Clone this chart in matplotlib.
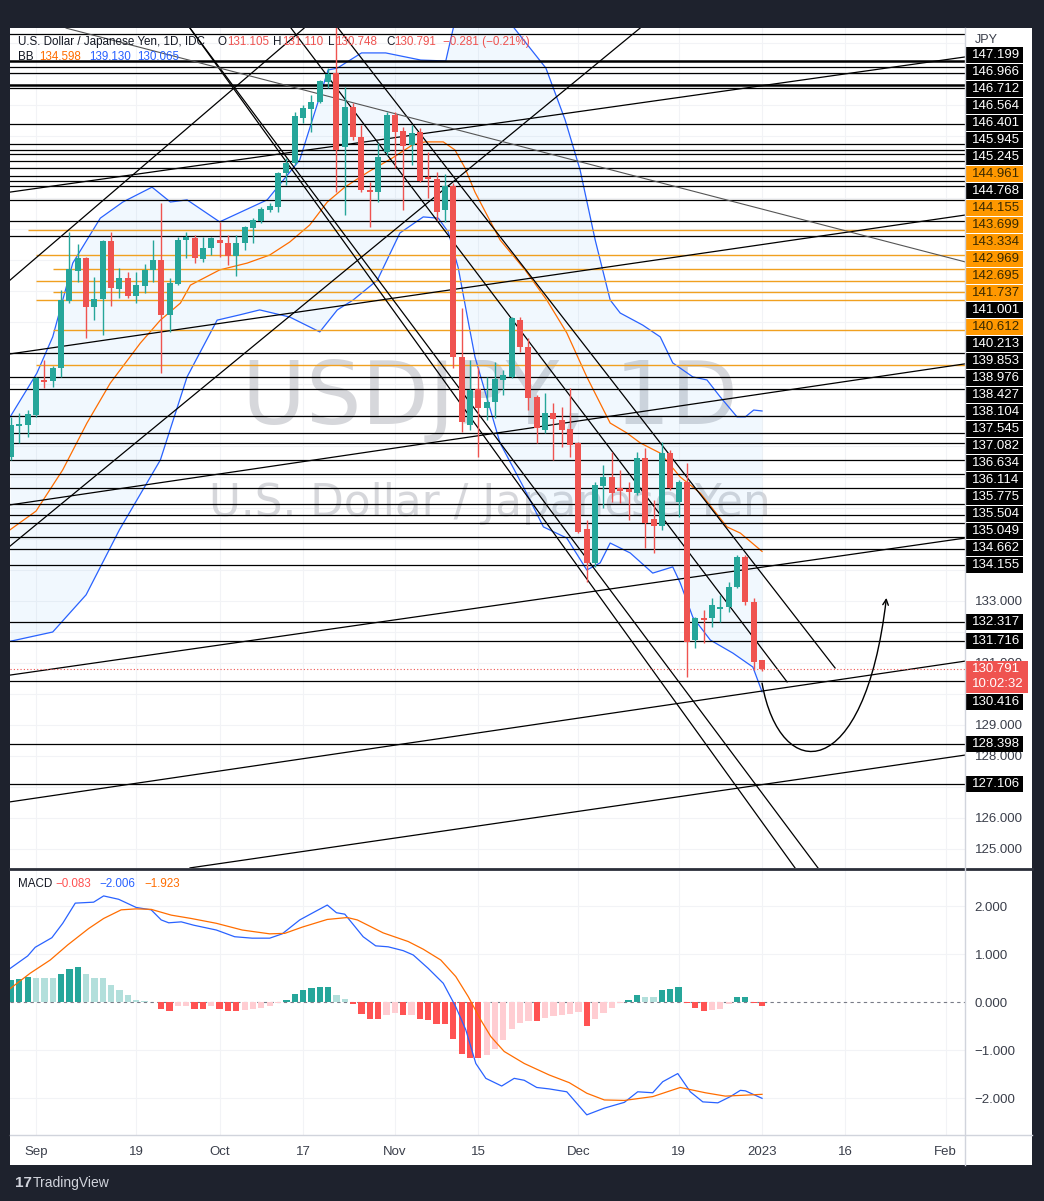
import numpy as np
import matplotlib.pyplot as plt
import matplotlib.transforms as mtrans
from matplotlib.path import Path
from matplotlib.patches import FancyArrowPatch, Rectangle

plt.rcParams['font.family'] = ['Liberation Sans', 'DejaVu Sans']

# ---------------- data ----------------
bar_idx = list(range(-3, 88))          # 0 = 1 Sep 2022, 87 = 2 Jan 2023
opens = [137.65, 138.66, 138.68, 139.00, 140.13, 140.10, 140.52, 142.68, 143.65, 144.06,
         142.48, 142.74, 144.61, 143.06, 143.42, 142.84, 143.16, 143.68, 144.00, 142.23,
         143.23, 144.65, 144.71, 144.03, 144.39, 144.65, 144.55, 144.13, 144.55, 145.03,
         145.26, 145.61, 145.71, 146.81, 147.13, 148.58, 148.87, 149.10, 149.74, 150.03,
         147.65, 148.94, 147.97, 146.26, 146.19, 147.48, 148.68, 148.16, 147.71, 148.13,
         146.68, 146.61, 145.61, 146.39, 140.87, 138.68, 139.84, 139.23, 139.42, 140.13,
         140.23, 142.06, 141.19, 139.58, 138.52, 139.06, 138.84, 138.55, 138.10, 135.32,
         134.23, 136.71, 137.00, 136.65, 136.60, 136.48, 137.61, 135.65, 135.42, 137.77,
         136.19, 136.84, 131.74, 132.45, 132.45, 132.74, 132.81, 133.45, 134.42, 132.97,
         131.105]
highs = [138.94, 139.06, 139.16, 140.22, 140.77, 140.58, 143.03, 144.90, 144.52, 144.10,
         143.45, 144.65, 144.90, 143.74, 143.61, 143.61, 143.87, 144.65, 145.84, 143.42,
         144.74, 144.90, 144.81, 144.74, 144.74, 145.23, 144.81, 144.81, 145.10, 145.35,
         145.71, 145.84, 146.84, 147.29, 148.77, 149.00, 149.32, 149.81, 150.19, 151.90,
         149.58, 149.06, 148.35, 146.52, 147.77, 148.77, 148.77, 148.29, 148.35, 148.26,
         147.48, 146.84, 146.77, 146.48, 142.45, 140.77, 140.55, 140.23, 140.71, 140.45,
         142.16, 142.16, 141.48, 139.65, 139.71, 139.39, 139.26, 139.87, 138.12, 135.61,
         136.84, 137.39, 137.81, 137.23, 136.84, 137.81, 137.94, 136.26, 138.13, 137.87,
         136.90, 137.45, 132.48, 132.71, 133.10, 133.19, 133.61, 134.48, 134.48, 133.10,
         131.110]
lows = [137.55, 138.10, 138.29, 138.95, 139.87, 139.90, 140.23, 142.60, 143.29, 141.48,
        142.06, 141.58, 142.52, 142.77, 142.77, 142.61, 142.94, 143.29, 140.35, 141.68,
        143.20, 144.06, 143.90, 143.94, 144.16, 144.10, 143.84, 143.48, 144.32, 144.55,
        145.20, 145.55, 145.55, 146.42, 147.06, 148.42, 148.13, 149.06, 149.55, 146.19,
        145.45, 147.87, 146.19, 145.06, 145.87, 147.40, 146.97, 145.61, 147.06, 146.52,
        146.00, 145.29, 145.23, 140.52, 138.45, 138.52, 137.65, 138.84, 138.90, 139.65,
        140.19, 141.03, 139.16, 138.10, 138.42, 137.55, 137.97, 137.65, 135.19, 133.61,
        134.10, 136.00, 136.19, 136.16, 135.61, 136.42, 134.71, 134.55, 135.29, 136.58,
        135.71, 130.55, 131.48, 131.65, 132.16, 132.32, 132.65, 133.42, 132.87, 130.77,
        130.748]
closes = [138.68, 138.70, 139.03, 140.19, 140.06, 140.52, 142.71, 143.71, 144.06, 142.48,
          142.74, 144.61, 143.10, 143.42, 142.84, 143.19, 143.68, 144.00, 142.23, 143.26,
          144.65, 144.74, 144.06, 144.39, 144.71, 144.55, 144.13, 144.55, 145.06, 145.29,
          145.65, 145.74, 146.81, 147.13, 148.65, 148.90, 149.10, 149.77, 150.00, 147.55,
          148.94, 147.97, 146.26, 146.19, 147.32, 148.68, 148.13, 147.68, 148.10, 146.55,
          146.61, 145.55, 146.39, 140.87, 138.77, 139.81, 139.23, 139.42, 140.16, 140.29,
          142.13, 141.19, 139.55, 138.58, 139.06, 138.87, 138.52, 138.03, 135.23, 134.23,
          136.74, 137.00, 136.48, 136.55, 136.52, 137.61, 135.52, 135.42, 137.77, 136.65,
          136.84, 131.68, 132.45, 132.39, 132.87, 132.81, 133.45, 134.42, 132.97, 131.03,
          130.791]

# Bollinger bands, sampled points (bar index, price)
bb_up_x = [-3.1, 0.1, 2.0, 4.4, 7.7, 10.4, 13.9, 16.1, 18.1, 22.0, 27.7, 31.6, 35.0, 36.1,
           39.0, 41.9, 46.1, 49.1, 50.0, 52.0, 55.6, 57.3, 61.1, 63.4, 65.2, 67.0, 68.8,
           70.0, 72.7, 74.8, 76.3, 78.7, 80.4, 82.0, 84.0, 85.0, 86.0, 87.0]
bb_up_y = [138.94, 140.35, 141.52, 143.90, 145.35, 145.87, 146.35, 145.87, 145.94, 145.23,
           145.94, 147.23, 150.13, 150.19, 150.68, 150.68, 150.45, 150.42, 151.48, 152.2,
           152.2, 151.48, 150.19, 148.52, 146.90, 144.65, 142.71, 142.29, 141.90, 141.52,
           140.68, 140.23, 140.13, 139.58, 138.94, 138.94, 139.16, 139.13]
bb_mid_x = [-3.1, 0.0, 3.2, 6.1, 8.9, 12.5, 14.9, 17.3, 18.5, 22.0, 25.3, 28.0, 30.4, 32.8,
            34.9, 37.0, 39.8, 42.7, 45.1, 46.6, 48.8, 50.2, 51.4, 52.6, 55.6, 58.6, 61.2,
            63.6, 66.0, 68.8, 70.8, 72.4, 74.8, 77.2, 79.6, 82.8, 84.4, 87.0]
bb_mid_y = [135.30, 135.90, 137.23, 138.74, 140.03, 141.32, 142.06, 142.61, 143.19, 143.68,
            143.90, 144.16, 144.58, 145.13, 145.87, 146.35, 146.84, 147.29, 147.71, 147.81,
            147.81, 147.55, 146.97, 146.19, 144.65, 143.68, 142.71, 141.65, 140.23, 138.74,
            138.42, 138.10, 137.77, 137.00, 136.48, 135.39, 135.19, 134.60]
bb_lo_x = [-3.1, 2.0, 6.0, 10.0, 14.9, 18.1, 21.7, 24.4, 26.8, 30.4, 34.0, 36.1, 38.0, 40.9,
           43.6, 46.4, 48.2, 49.4, 50.6, 51.8, 52.6, 55.6, 58.4, 60.8, 63.6, 66.0, 67.6,
           68.8, 71.2, 73.9, 76.3, 77.2, 78.7, 80.8, 83.5, 85.9, 87.0]
bb_lo_y = [131.70, 132.00, 133.20, 135.30, 137.55, 140.23, 142.06, 142.23, 142.39, 142.16,
           141.68, 142.39, 142.71, 143.35, 144.87, 145.39, 145.35, 144.90, 143.74, 142.00,
           140.87, 138.10, 136.68, 135.39, 135.03, 134.00, 134.23, 134.87, 134.55, 133.90,
           134.10, 133.58, 132.48, 131.74, 131.32, 130.87, 130.07]

# horizontal levels
black_levels = [147.199, 146.966, 146.712, 146.564, 146.401, 145.945, 145.245, 144.768,
                141.001, 140.213, 139.853, 138.976, 138.427, 138.104, 137.545, 137.082,
                136.634, 136.114, 135.775, 135.504, 135.049, 134.662, 134.155, 132.317,
                131.716, 130.416, 128.398, 127.106]
orange_levels = [144.961, 144.155, 143.699, 143.334, 142.969, 142.695, 141.737, 140.612]
orange_start = [-1, 0, 2, 0, 2, 0, 2, 0]
upper_levels = [151.29, 150.42, 150.22, 150.03, 149.65, 149.55, 148.39, 147.74, 147.55, 147.42]
upper_thick = [False, True, False, False, True, False, False, False, False, False]

# trend lines ((bar, price), (bar, price))
rising_lines = [((-3.12, 146.19), (111.32, 150.55)),
                ((-3.12, 140.97), (111.32, 145.45)),
                ((-3.12, 136.10), (111.32, 140.65)),
                ((-3.12, 130.61), (111.32, 135.03)),
                ((-3.12, 126.52), (111.32, 131.06)),
                ((18.45, 124.39), (111.32, 128.03)),
                ((-3.12, 143.35), (32.12, 151.48)),
                ((-3.12, 134.77), (72.38, 151.48))]
falling_lines = [((18.45, 151.48), (93.70, 124.39)),
                 ((18.45, 151.48), (90.95, 124.39)),
                 ((36.20, 151.48), (95.75, 130.84)),
                 ((30.56, 151.48), (90.00, 130.39))]
gray_line = ((3.6, 151.48), (111.32, 143.94))

# projected path (start, control 1, control 2, end)
proj_path = [(87.0, 130.35), (89.15, 127.06), (99.3, 127.06), (101.9, 133.10)]

# MACD
macd_x = [-3.1, -1.0, -0.1, 1.9, 3.2, 4.7, 6.9, 8.1, 9.9, 12.0, 13.8, 15.0, 15.9, 17.4, 18.9,
          21.6, 23.8, 25.9, 28.0, 29.5, 31.6, 33.4, 34.9, 36.0, 37.0, 39.2, 40.7, 42.2, 44.0,
          45.2, 47.0, 48.8, 50.3, 51.5, 52.7, 53.9, 55.8, 57.3, 58.5, 60.0, 61.5, 63.6, 66.0,
          68.1, 70.5, 72.1, 73.9, 75.1, 76.9, 78.4, 79.9, 81.7, 83.2, 84.4, 85.0, 87.0]
macd_y = [0.70, 0.96, 1.14, 1.34, 1.64, 2.06, 2.08, 2.21, 2.14, 1.97, 1.92, 1.71, 1.65, 1.67,
          1.60, 1.50, 1.36, 1.33, 1.33, 1.42, 1.71, 1.88, 2.02, 1.86, 1.83, 1.36, 1.17, 1.15,
          1.07, 0.98, 0.70, 0.39, -0.10, -0.58, -1.28, -1.59, -1.75, -1.59, -1.63, -1.78,
          -1.81, -1.87, -2.35, -2.21, -2.09, -1.87, -1.89, -1.66, -1.49, -1.87, -2.08, -2.10,
          -1.97, -1.84, -1.85, -2.006]
signal_x = [-3.1, -0.7, 1.7, 3.8, 6.3, 8.1, 10.2, 12.0, 13.8, 16.2, 18.6, 21.6, 24.7, 28.0,
            29.8, 31.9, 34.9, 37.3, 38.5, 41.6, 44.6, 46.4, 48.5, 50.3, 51.8, 53.3, 54.5,
            56.1, 58.5, 61.5, 63.9, 66.0, 68.1, 70.5, 73.9, 77.2, 80.2, 82.6, 85.0, 87.0]
signal_y = [0.28, 0.60, 0.875, 1.19, 1.53, 1.74, 1.92, 1.94, 1.93, 1.81, 1.74, 1.64, 1.50,
            1.42, 1.43, 1.56, 1.72, 1.76, 1.71, 1.44, 1.26, 1.10, 0.875, 0.53, 0.11, -0.375,
            -0.72, -1.03, -1.28, -1.52, -1.68, -1.90, -2.04, -2.05, -1.97, -1.78, -1.89,
            -1.96, -1.94, -1.923]
hist = [0.45, 0.47, 0.52, 0.51, 0.51, 0.50, 0.59, 0.69, 0.72, 0.59, 0.50, 0.49, 0.36, 0.26,
        0.14, 0.05, 0.02, 0.005, -0.14, -0.19, -0.09, -0.085, -0.14, -0.14, -0.08, -0.15,
        -0.19, -0.19, -0.17, -0.14, -0.125, -0.08, -0.01, 0.05, 0.17, 0.24, 0.29, 0.31, 0.32,
        0.14, 0.07, -0.04, -0.24, -0.36, -0.36, -0.26, -0.23, -0.28, -0.26, -0.35, -0.38,
        -0.45, -0.45, -0.78, -1.09, -1.16, -1.17, -1.11, -0.97, -0.80, -0.56, -0.43, -0.40,
        -0.40, -0.33, -0.29, -0.26, -0.24, -0.21, -0.49, -0.36, -0.22, -0.125, -0.03, 0.035,
        0.15, 0.11, 0.11, 0.26, 0.28, 0.32, -0.01, -0.125, -0.19, -0.17, -0.14, -0.05, 0.10,
        0.11, -0.01, -0.083]

price_ticks = [125, 126, 128, 129, 131, 133]
date_pos = [0, 12, 22, 32, 43, 53, 65, 77, 87, 97, 109]
date_lbl = ['Sep', '19', 'Oct', '17', 'Nov', '15', 'Dec', '19', '2023', '16', 'Feb']

# ---------------- figure ----------------
W, H = 1044, 1201
DARK = '#1e222d'
UP, DOWN = '#26a69a', '#ef5350'
BLUE, ORANGE = '#2962ff', '#ff6d00'
TXT = '#131722'
YMIN, YMAX = 124.387, 151.484
XMIN, XMAX = -3.12, 111.32

fig = plt.figure(figsize=(W / 100, H / 100), dpi=100, facecolor=DARK)
fig.add_artist(Rectangle((10 / W, 1 - 1165 / H), 1022 / W, 1137 / H, transform=fig.transFigure,
                         fc='white', ec='none', zorder=-5))

ax = fig.add_axes([10 / W, 1 - 868 / H, 955 / W, 840 / H])
axm = fig.add_axes([10 / W, 1 - 1135 / H, 955 / W, 265 / H], sharex=ax)
for a in (ax, axm):
    a.set_facecolor('white')
    for s in a.spines.values():
        s.set_visible(False)
ax.set_xlim(XMIN, XMAX)
ax.set_ylim(YMIN, YMAX)
axm.set_ylim(-2.77, 2.75)

# grids
for p in range(125, 152):
    ax.axhline(p, color='#f2f3f6', lw=0.8, zorder=0)
for d in date_pos:
    ax.axvline(d, color='#f2f3f6', lw=0.8, zorder=0)
    axm.axvline(d, color='#f2f3f6', lw=0.8, zorder=0)
for v in (-2, -1, 1, 2):
    axm.axhline(v, color='#f2f3f6', lw=0.8, zorder=0)

# watermark
ax.text(0.5026, 0.557, 'USDJPY, 1D', transform=ax.transAxes, fontsize=63, color='#d6d7db',
        ha='center', va='center', zorder=0.5, family='DejaVu Sans')
ax.text(0.5026, 0.4345, 'U.S. Dollar / Japanese Yen', transform=ax.transAxes, fontsize=31.5,
        color='#d6d7db', ha='center', va='center', zorder=0.5, family='DejaVu Sans')

# bollinger bands
xs = np.linspace(-3.1, 87, 400)
up_i = np.interp(xs, bb_up_x, bb_up_y)
lo_i = np.interp(xs, bb_lo_x, bb_lo_y)
ax.fill_between(xs, lo_i, up_i, color='#2196f3', alpha=0.06, lw=0, zorder=1)
ax.plot(bb_up_x, bb_up_y, color=BLUE, lw=0.9, zorder=2)
ax.plot(bb_lo_x, bb_lo_y, color=BLUE, lw=0.9, zorder=2)
ax.plot(bb_mid_x, bb_mid_y, color=ORANGE, lw=0.9, zorder=2)

# horizontal levels
for p, thick in zip(upper_levels, upper_thick):
    ax.axhline(p, color='black', lw=1.8 if thick else 0.9, zorder=3)
for p in black_levels:
    ax.axhline(p, color='black', lw=0.9, zorder=3)
for p, s in zip(orange_levels, orange_start):
    ax.hlines(p, s, XMAX, color='#f0a020', lw=1.0, zorder=3)

# trend lines
for (x0, y0), (x1, y1) in rising_lines + falling_lines:
    ax.plot([x0, x1], [y0, y1], color='black', lw=0.9, zorder=3)
ax.plot([gray_line[0][0], gray_line[1][0]], [gray_line[0][1], gray_line[1][1]],
        color='#555555', lw=0.8, zorder=3)

# candles
o = np.array(opens); h = np.array(highs); l = np.array(lows); c = np.array(closes)
col = np.where(c >= o, UP, DOWN)
ax.vlines(bar_idx, l, h, colors=col, lw=1, zorder=4)
body = np.maximum(np.abs(c - o), 0.04)
ax.bar(bar_idx, body, bottom=np.minimum(o, c), width=0.72, color=col, lw=0, zorder=5)

# last price line
last = closes[-1]
ax.axhline(last, color=DOWN, lw=0.8, ls=(0, (1, 2)), zorder=3)

# projection arrow
path = Path(proj_path, [Path.MOVETO, Path.CURVE4, Path.CURVE4, Path.CURVE4])
ax.add_patch(FancyArrowPatch(path=path, arrowstyle='->', mutation_scale=10, lw=1,
                             color='black', zorder=6))

# price scale
ax.yaxis.tick_right()
ax.set_yticks(price_ticks)
ax.set_yticklabels([f'{v:.3f}' for v in price_ticks])
ax.tick_params(axis='y', length=0, pad=7, labelsize=9.5, labelcolor='#3a3e4a')
ax.tick_params(axis='x', length=0, labelbottom=False)

ppu = 840 / (YMAX - YMIN)           # pixels per price unit
trans = mtrans.blended_transform_factory(ax.transAxes, ax.transData)
labels = [(p, 'black', 'white') for p in black_levels] + \
         [(p, '#ff9800', '#3a2a00') for p in orange_levels]
labels.sort(key=lambda t: t[0])
step = 17.0 / ppu
box_h = 16.0 / ppu
pos = {}
prev = None
for p, fc, tc in labels:
    if p > 133.5:
        y = p if prev is None else max(p, prev + step)
        prev = y
    elif p < last:
        y = min(p, last - 33 / ppu)
    else:
        y = p
    pos[p] = y
for p, fc, tc in labels:
    y = pos[p]
    ax.add_patch(Rectangle((1 + 1 / 955, y - box_h / 2), 57 / 955, box_h, transform=trans,
                           fc=fc, ec='none', clip_on=False, zorder=20))
    ax.text(1 + 7 / 955, y, f'{p:.3f}', transform=trans, color=tc, fontsize=9.5,
            ha='left', va='center', clip_on=False, zorder=21)
# current price tag
ax.add_patch(Rectangle((1 + 1 / 955, last - 24 / ppu), 62 / 955, 32 / ppu, transform=trans,
                       fc='#ef5350', ec='none', clip_on=False, zorder=22))
ax.text(1 + 7 / 955, last, f'{last:.3f}', transform=trans, color='white', fontsize=9.5,
        ha='left', va='center', clip_on=False, zorder=23)
ax.text(1 + 7 / 955, last - 15 / ppu, '10:02:32', transform=trans, color='white', fontsize=9.5,
        ha='left', va='center', clip_on=False, zorder=23)
ax.text(1 + 10 / 955, 1 - 12 / 840, 'JPY', transform=ax.transAxes, color='#3a3e4a',
        fontsize=9, ha='left', va='center', clip_on=False)

# ---------------- MACD ----------------
hcol = []
for i, v in enumerate(hist):
    pv = hist[i - 1] if i > 0 else v - 0.01
    if v >= 0:
        hcol.append('#26a69a' if v > pv else '#b2dfdb')
    else:
        hcol.append('#ffcdd2' if v > pv else '#ff5252')
axm.bar(bar_idx, hist, width=0.75, color=hcol, lw=0, zorder=2)
axm.axhline(0, color='#787b86', lw=0.8, ls=(0, (3, 3)), zorder=1)
axm.plot(macd_x, macd_y, color=BLUE, lw=0.9, zorder=3)
axm.plot(signal_x, signal_y, color=ORANGE, lw=0.9, zorder=3)
axm.yaxis.tick_right()
axm.set_yticks([-2, -1, 0, 1, 2])
axm.set_yticklabels(['\u22122.000', '\u22121.000', '0.000', '1.000', '2.000'])
axm.tick_params(axis='y', length=0, pad=7, labelsize=9.5, labelcolor='#3a3e4a')
axm.set_xticks(date_pos)
axm.set_xticklabels(date_lbl)
axm.tick_params(axis='x', length=0, pad=8, labelsize=9.5, labelcolor='#3a3e4a')
axm.set_xlim(XMIN, XMAX)

# separators
fig.add_artist(plt.Line2D([10 / W, 1032 / W], [1 - 869 / H] * 2, transform=fig.transFigure,
                          color='#2a2e39', lw=2))
fig.add_artist(plt.Line2D([10 / W, 1032 / W], [1 - 1135 / H] * 2, transform=fig.transFigure,
                          color='#d1d4dc', lw=1))
fig.add_artist(plt.Line2D([965 / W] * 2, [1 - 28 / H, 1 - 1165 / H], transform=fig.transFigure,
                          color='#d1d4dc', lw=1))

# headers
def hdr(x, y, s, color, size=8.4):
    fig.text(x / W, 1 - y / H, s, color=color, fontsize=size, ha='left', va='center')

hdr(18, 42, 'U.S. Dollar / Japanese Yen, 1D, IDC', TXT)
for x, s, cc in [(218, 'O', TXT), (227, '131.105', DOWN), (273, 'H', TXT), (282, '131.110', DOWN),
                 (328, 'L', TXT), (335, '130.748', DOWN), (386, 'C', TXT), (394, '130.791', DOWN),
                 (443, '\u22120.281 (\u22120.21%)', DOWN)]:
    hdr(x, 42, s, cc)
hdr(18, 57, 'BB', TXT)
hdr(39, 57, '134.598', ORANGE)
hdr(89, 57, '139.130', BLUE)
hdr(137, 57, '130.065', BLUE)
hdr(18, 884, 'MACD', TXT)
hdr(55, 884, '\u22120.083', '#ff5252')
hdr(99, 884, '\u22122.006', BLUE)
hdr(144, 884, '\u22121.923', ORANGE)

fig.text(15 / W, 1 - 1183 / H, '17', color='#d1d4dc', fontsize=11, fontweight='bold',
         ha='left', va='center')
fig.text(33 / W, 1 - 1183 / H, 'TradingView', color='#d1d4dc', fontsize=10,
         ha='left', va='center')

fig.savefig('out.png', dpi=100, facecolor=DARK)
